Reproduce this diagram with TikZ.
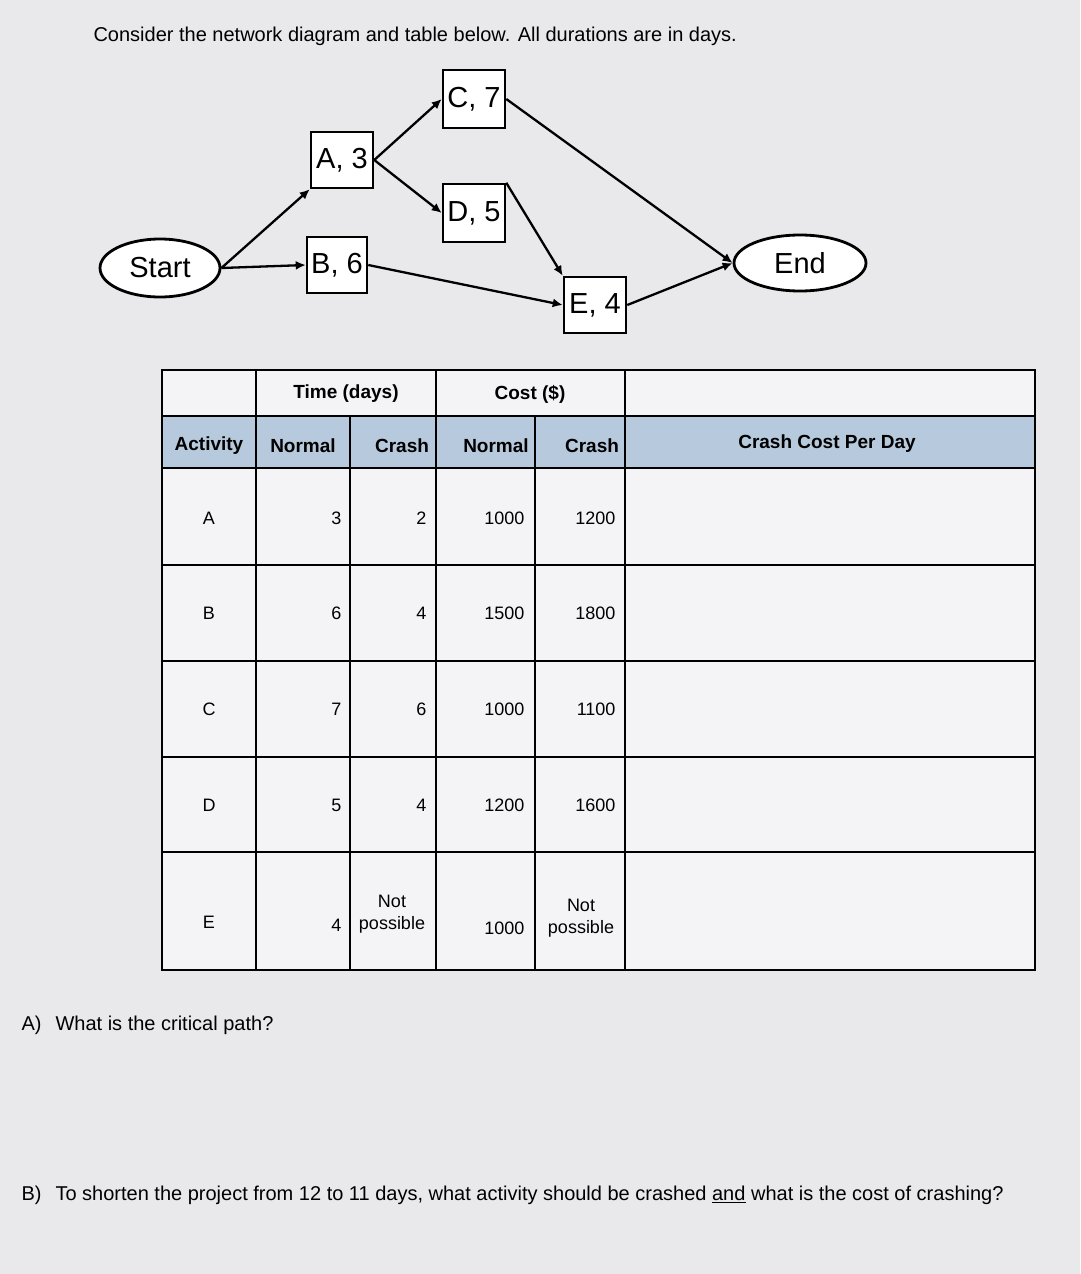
\documentclass[tikz,border=0pt]{standalone}
\usepackage{fontspec}
\setmainfont{Liberation Sans}
\usetikzlibrary{shapes.geometric,arrows.meta}
\definecolor{bg}{HTML}{E9E9EC}
\definecolor{hdr}{HTML}{B7C9DC}
\definecolor{cell}{HTML}{F4F4F6}
\begin{document}
\begin{tikzpicture}[x=1pt,y=-1pt,
 act/.style={draw,line width=2.5pt,fill=white,inner sep=2pt,font=\fontsize{29}{31}\selectfont},
 term/.style={draw,ellipse,line width=2.8pt,fill=white,inner sep=1pt,font=\fontsize{29}{31}\selectfont},
 con/.style={line width=2.3pt,-{Latex[length=10pt,width=9pt]}},
 tt/.style={font=\bfseries\fontsize{19}{21}\selectfont},
 tc/.style={font=\fontsize{18}{22}\selectfont}]
\fill[bg] (0,0) rectangle (1080,1274);
\useasboundingbox (0,0) rectangle (1080,1274);
\node[anchor=west,font=\fontsize{20}{22}\selectfont] (title) at (90,36) {Consider the network diagram and table below. All durations are in days.};
% network
\node[term,minimum width=120pt,minimum height=58pt] (S) at (160,268) {Start};
\node[term,minimum width=132pt,minimum height=56pt] (N) at (800,263) {End};
\node[act,minimum width=62pt,minimum height=56pt] (A) at (342,160) {A, 3};
\node[act,minimum width=60pt,minimum height=56pt] (B) at (337,265) {B, 6};
\node[act,minimum width=62pt,minimum height=58pt] (C) at (474,99) {C, 7};
\node[act,minimum width=62pt,minimum height=58pt] (D) at (474,213) {D, 5};
\node[act,minimum width=62pt,minimum height=56pt] (E) at (595,305) {E, 4};
\draw[con] (S.east) -- (A.south west);
\draw[con] (S.east) -- (B.west);
\draw[con] (A.east) -- (C.west);
\draw[con] (A.east) -- (D.west);
\draw[con] (C.east) -- (N.west);
\draw[con] (D.north east) -- (E.north west);
\draw[con] (B.east) -- (E.west);
\draw[con] (E.east) -- (N.west);
% table
\fill[cell] (162,370) rectangle (1035,970);
\fill[hdr] (162,416) rectangle (1035,468);
\draw[line width=2pt] (162,370) rectangle (1035,970);
\foreach \y in {416,468,565,661,757,852} \draw[line width=1.8pt] (162,\y) -- (1035,\y);
\foreach \x in {256,436,625} \draw[line width=1.8pt] (\x,370) -- (\x,970);
\foreach \x in {350,535} \draw[line width=1.8pt] (\x,416) -- (\x,970);
\node[tt] (h1) at (346,394) {Time (days)};
\node[tt] (h2) at (530,394) {Cost (\$)};
\node[tt] (h3) at (209,446) {Activity};
\node[tt] (h4) at (303,446) {Normal};
\node[tt] (h5) at (402,446) {Crash};
\node[tt] (h6) at (496,446) {Normal};
\node[tt] (h7) at (592,446) {Crash};
\node[tt] (h8) at (827,444) {Crash Cost Per Day};
\foreach \n/\y/\a/\b/\c/\d/\e in {1/518/A/3/2/1000/1200, 2/613/B/6/4/1500/1800, 3/709/C/7/6/1000/1100, 4/805/D/5/4/1200/1600}{
 \node[tc] (a\n) at (209,\y) {\a};
 \node[tc,anchor=east] (b\n) at (345,\y) {\b};
 \node[tc,anchor=east] (c\n) at (430,\y) {\c};
 \node[tc,anchor=east] (d\n) at (528,\y) {\d};
 \node[tc,anchor=east] (e\n) at (619,\y) {\e};
}
\node[tc] (a5) at (209,922) {E};
\node[tc,anchor=east] (b5) at (345,925) {4};
\node[tc,align=center] (c5) at (392,914) {Not\\possible};
\node[tc,anchor=east] (d5) at (528,928) {1000};
\node[tc,align=center] (e5) at (581,918) {Not\\possible};
% questions
\node[anchor=west,font=\fontsize{20}{22}\selectfont] (qa) at (18,1025) {A)\hspace{14pt}What is the critical path?};
\node[anchor=west,font=\fontsize{20}{22}\selectfont] (qb) at (18,1195) {B)\hspace{14pt}To shorten the project from 12 to 11 days, what activity should be crashed \underline{and} what is the cost of crashing?};
\end{tikzpicture}
\end{document}
